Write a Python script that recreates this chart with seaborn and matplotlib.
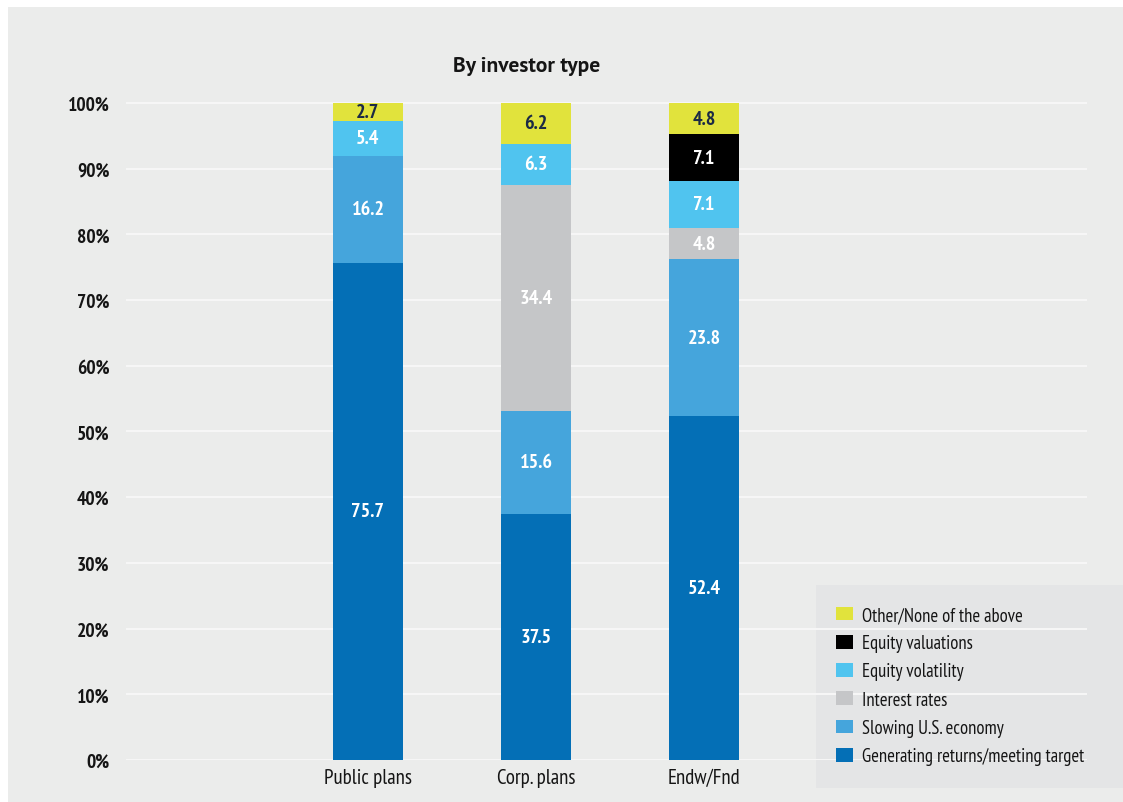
import matplotlib
matplotlib.use("Agg")
import matplotlib.pyplot as plt
from matplotlib.patches import Rectangle, Patch
from matplotlib import font_manager as fm
import seaborn as sns
import pandas as pd
import numpy as np

# Share of respondents by investor type (percent), bottom segment first
categories = ["Public plans", "Corp. plans", "Endw/Fnd"]
series_names = [
    "Generating returns/meeting target",
    "Slowing U.S. economy",
    "Interest rates",
    "Equity volatility",
    "Equity valuations",
    "Other/None of the above",
]
generating = [75.7, 37.5, 52.4]
slowing = [16.2, 15.6, 23.8]
interest = [0.0, 34.4, 4.8]
volatility = [5.4, 6.3, 7.1]
valuations = [0.0, 0.0, 7.1]
other = [2.7, 6.2, 4.8]
y_ticks = [0, 10, 20, 30, 40, 50, 60, 70, 80, 90, 100]
y_tick_labels = ["0%", "10%", "20%", "30%", "40%", "50%", "60%", "70%", "80%", "90%", "100%"]

series_values = [generating, slowing, interest, volatility, valuations, other]
series_colors = ["#046fb6", "#45a5dc", "#c5c6c8", "#50c4ef", "#000000", "#e1e33c"]
label_colors = ["white", "white", "white", "white", "white", "#1b2a45"]


def pick(candidates):
    installed = {f.name for f in fm.fontManager.ttflist}
    return [c for c in candidates if c in installed] + ["DejaVu Sans"]


narrow = pick(["PT Sans Narrow", "Roboto Condensed", "IBM Plex Sans Condensed"])
plain = pick(["PT Sans", "Open Sans", "Liberation Sans"])

sns.set_theme(style="white")
plt.rcParams["font.family"] = narrow

W, H = 1123, 803
fig = plt.figure(figsize=(W / 100, H / 100), dpi=100, facecolor="white")

# grey panel behind the chart
fig.patches.append(Rectangle((8 / W, 0), 1 - 8 / W, 1 - 8 / H, transform=fig.transFigure,
                             facecolor="#ebeceb", edgecolor="none", zorder=-10))

ax = fig.add_axes([126 / W, 1 - 761 / H, (1087 - 126) / W, 689.9 / H])
ax.set_facecolor("none")

bar_width = 70 / 168
bottoms = np.zeros(len(categories))
for name, vals, col, lcol in zip(series_names, series_values, series_colors, label_colors):
    df = pd.DataFrame({"type": categories, "value": vals})
    sns.barplot(data=df, x="type", y="value", order=categories, color=col,
                width=bar_width, bottom=bottoms.copy(), linewidth=0,
                edgecolor="none", saturation=1, errorbar=None, ax=ax, zorder=3)
    for i, v in enumerate(vals):
        if v > 0:
            ax.text(i, bottoms[i] + v / 2, f"{v:.1f}", ha="center", va="center",
                    color=lcol, fontsize=14.5, fontweight="bold", zorder=5)
    bottoms = bottoms + np.array(vals)

ax.set_xlim((126 - 368) / 168, (1087 - 368) / 168)
ax.set_ylim(0, 105)
ax.set_yticks(y_ticks)
ax.set_yticklabels(y_tick_labels, fontsize=14, fontweight="bold", color="#151515")
ax.set_xlabel("")
ax.set_ylabel("")
ax.tick_params(axis="y", length=0, pad=12)
ax.tick_params(axis="x", length=0, pad=6, labelsize=15, labelcolor="#151515")
ax.grid(axis="y", color="#f8f8f8", linewidth=1.3, zorder=0)
ax.grid(axis="x", visible=False)
ax.set_axisbelow(True)
for s in ax.spines.values():
    s.set_visible(False)

fig.text(527 / W, 1 - 67 / H, "By investor type", ha="center", va="center",
         fontsize=15.5, fontweight="bold", color="#151515", family=plain)

# legend panel
fig.patches.append(Rectangle((816 / W, 1 - 789 / H), (W - 816) / W, (789 - 586) / H,
                             transform=fig.transFigure, facecolor="#e4e5e6",
                             edgecolor="none", zorder=-5))
handles = [Patch(facecolor=c, edgecolor="none", label=n)
           for n, c in zip(series_names, series_colors)][::-1]
leg = fig.legend(handles=handles, loc="upper left",
                 bbox_to_anchor=(836 / W, 1 - 607 / H), frameon=False,
                 fontsize=13.4, handlelength=0.9, handleheight=0.75,
                 handletextpad=0.5, labelspacing=0.55, borderpad=0,
                 borderaxespad=0)
for t in leg.get_texts():
    t.set_color("#151515")

fig.savefig("out.png", dpi=100, facecolor="white")
